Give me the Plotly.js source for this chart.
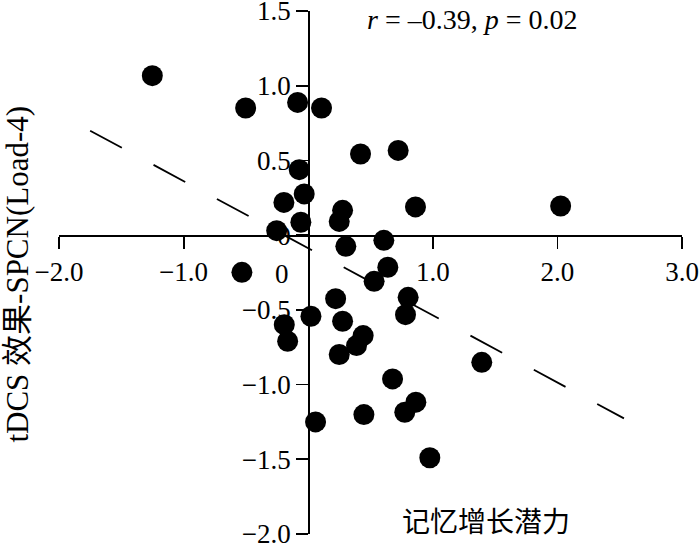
<!DOCTYPE html>
<html>
<head>
<meta charset="utf-8">
<script src="https://cdn.plot.ly/plotly-3.0.1.min.js"></script>
<style>html,body{margin:0;padding:0;background:#fff;}#chart{width:700px;height:543px;}</style>
</head>
<body>
<div id="chart"></div>
<script>
// Data
const memoryGain = [-1.251, -0.502, -0.085, 0.107, -0.072, -0.032, -0.195, -0.059, -0.253,
  0.420, 0.722, 0.276, 0.249, 0.861, 2.026, 0.302, 0.607, 0.639, 0.529,
  -0.532, 0.220, 0.022, -0.192, -0.165, 0.276, 0.441, 0.388, 0.249, 0.802, 0.781,
  0.677, 0.864, 0.775, 0.447, 0.059, 1.393, 0.976];
const tdcsEffect = [1.067, 0.851, 0.888, 0.851, 0.438, 0.276, 0.219, 0.086, 0.030,
  0.543, 0.567, 0.166, 0.092, 0.189, 0.195, -0.075, -0.035, -0.215, -0.309,
  -0.249, -0.425, -0.543, -0.599, -0.710, -0.576, -0.672, -0.739, -0.799, -0.416, -0.532,
  -0.962, -1.118, -1.185, -1.201, -1.250, -0.851, -1.490];
const fitX = [-1.75, 2.534];
const fitY = [0.699, -1.226];
const xTickVals = [-2, -1, 1, 2, 3];
const xTickText = ['\u22122.0', '\u22121.0', '1.0', '2.0', '3.0'];
const yTickVals = [1.5, 1.0, 0.5, 0, -0.5, -1.0, -1.5, -2.0];
const yTickText = ['1.5', '1.0', '0.5', '0', '\u22120.5', '\u22121.0', '\u22121.5', '\u22122.0'];
const statText = '<i>r</i> = \u20130.39, <i>p</i> = 0.02';
const xTitle = '记忆增长潜力';
const yTitle = 'tDCS 效果-SPCN(Load-4)';

const serif = 'Liberation Serif, Noto Sans CJK SC';
const tickFont = {family: 'Liberation Serif', size: 27, color: '#000'};

const traces = [
  {x: fitX, y: fitY, mode: 'lines', type: 'scatter',
   line: {color: '#000', width: 1.8, dash: '36px,36px'}, hoverinfo: 'skip'},
  {x: memoryGain, y: tdcsEffect, mode: 'markers', type: 'scatter',
   marker: {color: '#000', size: 21, line: {width: 0}}}
];

const layout = {
  width: 700, height: 543,
  margin: {l: 59, r: 17.5, t: 11, b: 8.5, pad: 0},
  paper_bgcolor: '#fff', plot_bgcolor: '#fff',
  showlegend: false,
  font: {family: 'Liberation Serif', color: '#000'},
  xaxis: {range: [-2, 3], anchor: 'free', position: 2 / 3.5,
    showgrid: false, zeroline: false, showline: true, linecolor: '#000', linewidth: 1.8,
    ticks: 'outside', ticklen: 12, tickwidth: 1.8, tickcolor: '#000',
    ticklabeloverflow: 'allow',
    tickvals: xTickVals, ticktext: xTickText, tickfont: tickFont},
  yaxis: {range: [-2, 1.5], anchor: 'free', position: 0.4,
    showgrid: false, zeroline: false, showline: true, linecolor: '#000', linewidth: 1.8,
    ticks: 'outside', ticklen: 12, tickwidth: 1.8, tickcolor: '#000',
    ticklabeloverflow: 'allow',
    tickvals: yTickVals, ticktext: yTickText, tickfont: tickFont},
  annotations: [
    {text: statText, xref: 'paper', yref: 'paper', x: 0.491, y: 0.983,
     xanchor: 'left', yanchor: 'middle', showarrow: false,
     font: {family: 'Liberation Serif', size: 28, color: '#000'}},
    {text: '0', xref: 'x', yref: 'y', x: 0, y: 0, xanchor: 'right', yanchor: 'top',
     xshift: -17, yshift: -22, showarrow: false, font: tickFont},
    {text: xTitle, xref: 'paper', yref: 'paper', x: 0.685, y: 0.026,
     xanchor: 'center', yanchor: 'middle', showarrow: false,
     font: {family: 'Noto Sans CJK SC', size: 28, color: '#000'}},
    {text: yTitle, xref: 'paper', yref: 'paper', x: -0.0658, y: 0.496,
     xanchor: 'center', yanchor: 'middle', textangle: -90, showarrow: false,
     font: {family: serif, size: 31, color: '#000'}}
  ]
};

Plotly.newPlot('chart', traces, layout, {displayModeBar: false, staticPlot: true});
</script>
</body>
</html>
